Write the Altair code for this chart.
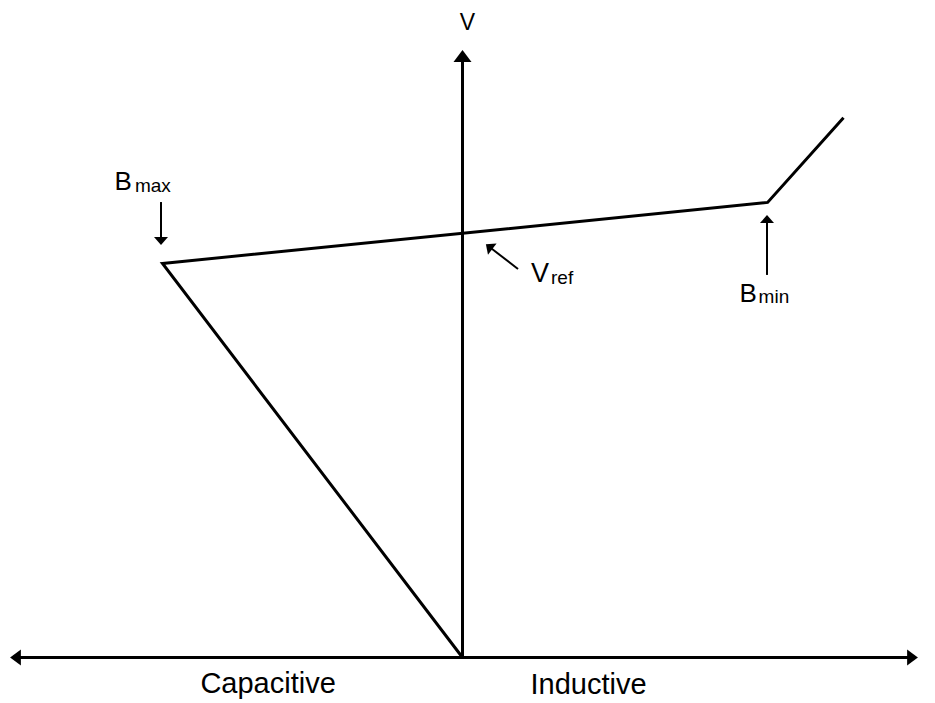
import math
import altair as alt
import pandas as pd

# ---- data (normalized current I and voltage V units) ----
# SVC characteristic: origin -> Bmax corner -> Bmin corner -> end of inductive slope
curve_I = [0.0, -1.0, 1.017, 1.27]
curve_V = [0.0, 1.0, 1.155, 1.37]

# axes (tips)
v_axis_top_V = 1.542
h_axis_left_I = -1.508
h_axis_right_I = 1.518

# annotation arrows: tail -> tip
arrow_names = ["Bmax", "Bmin", "Vref"]
arrow_tail_I = [-1.005, 1.015, 0.185]
arrow_tail_V = [1.156, 0.971, 0.986]
arrow_tip_I = [-1.005, 1.015, 0.078]
arrow_tip_V = [1.047, 1.123, 1.049]

# left-aligned labels (letters with subscripts)
lab_text = ["B", "max", "V", "ref", "B", "min"]
lab_I = [-1.160, -1.092, 0.228, 0.295, 0.923, 0.987]
lab_V = [1.186, 1.181, 0.954, 0.949, 0.903, 0.899]
lab_size = [26, 19, 27, 19, 26, 19]

# centered labels
clab_text = ["V", "Capacitive", "Inductive"]
clab_I = [0.0167, -0.648, 0.42]
clab_V = [1.593, -0.090, -0.0926]
clab_size = [23, 29, 29]

# ---- scale geometry (domain chosen so plot fills page) ----
X_DOM = [-1.515, 1.5483]
Y_DOM = [-0.1155, 1.6485]
W, H = 919, 695
XPX = W / (X_DOM[1] - X_DOM[0])
YPX = H / (Y_DOM[1] - Y_DOM[0])


def angle_of(tail, tip):
    dx = (tip[0] - tail[0]) * XPX
    dy = -(tip[1] - tail[1]) * YPX
    return math.degrees(math.atan2(dx, -dy)) % 360


def shorten(tail, tip, px):
    dx = (tip[0] - tail[0]) * XPX
    dy = (tip[1] - tail[1]) * YPX
    n = math.hypot(dx, dy)
    f = max(0.0, (n - px) / n)
    return (tail[0] + (tip[0] - tail[0]) * f, tail[1] + (tip[1] - tail[1]) * f)


thick_rows = []
for k, (i, v) in enumerate(zip(curve_I, curve_V)):
    thick_rows.append({"seg": "curve", "ord": k, "I": i, "V": v})
# vertical axis
p = shorten((0.0, 0.0), (0.0, v_axis_top_V), 9)
thick_rows += [{"seg": "vaxis", "ord": 0, "I": 0.0, "V": 0.0},
               {"seg": "vaxis", "ord": 1, "I": p[0], "V": p[1]}]
# horizontal axis
pl = shorten((0.0, 0.0), (h_axis_left_I, 0.0), 8)
pr = shorten((0.0, 0.0), (h_axis_right_I, 0.0), 8)
thick_rows += [{"seg": "haxis", "ord": 0, "I": pl[0], "V": pl[1]},
               {"seg": "haxis", "ord": 1, "I": pr[0], "V": pr[1]}]
thick_df = pd.DataFrame(thick_rows)

thin_rows = []
head_ann = []
for n, ti, tv, pi, pv in zip(arrow_names, arrow_tail_I, arrow_tail_V, arrow_tip_I, arrow_tip_V):
    q = shorten((ti, tv), (pi, pv), 5)
    thin_rows += [{"seg": n, "ord": 0, "I": ti, "V": tv},
                  {"seg": n, "ord": 1, "I": q[0], "V": q[1]}]
    head_ann.append({"I": pi, "V": pv, "ang": angle_of((ti, tv), (pi, pv))})
thin_df = pd.DataFrame(thin_rows)
head_ann_df = pd.DataFrame(head_ann)

head_axis_df = pd.DataFrame([
    {"I": 0.0, "V": v_axis_top_V, "ang": 0.0, "sz": 324},
    {"I": h_axis_left_I, "V": 0.0, "ang": 270.0, "sz": 256},
    {"I": h_axis_right_I, "V": 0.0, "ang": 90.0, "sz": 256},
])

lab_df = pd.DataFrame({"t": lab_text, "I": lab_I, "V": lab_V, "s": lab_size})
clab_df = pd.DataFrame({"t": clab_text, "I": clab_I, "V": clab_V, "s": clab_size})

xs = alt.X("I:Q", scale=alt.Scale(domain=X_DOM, nice=False, zero=False), axis=None)
ys = alt.Y("V:Q", scale=alt.Scale(domain=Y_DOM, nice=False, zero=False), axis=None)

thick = alt.Chart(thick_df).mark_line(color="black", strokeWidth=3, strokeCap="butt",
                                      strokeJoin="miter").encode(
    x=xs, y=ys, detail="seg:N", order="ord:Q")
thin = alt.Chart(thin_df).mark_line(color="black", strokeWidth=2, strokeCap="butt").encode(
    x=xs, y=ys, detail="seg:N", order="ord:Q")

heads_axis = alt.Chart(head_axis_df).mark_point(
    filled=True, color="black", opacity=1, strokeWidth=0,
    shape="M0,0L-1,1.35L1,1.35Z").encode(
    x=xs, y=ys, angle=alt.Angle("ang:Q", scale=None), size=alt.Size("sz:Q", scale=None))
heads_ann = alt.Chart(head_ann_df).mark_point(
    filled=True, color="black", opacity=1, strokeWidth=0, size=196,
    shape="M0,0L-1,1.15L1,1.15Z").encode(
    x=xs, y=ys, angle=alt.Angle("ang:Q", scale=None))

labels = alt.Chart(lab_df).mark_text(
    align="left", baseline="alphabetic", font="Liberation Sans", color="black").encode(
    x=xs, y=ys, text="t:N", size=alt.Size("s:Q", scale=None))
clabels = alt.Chart(clab_df).mark_text(
    align="center", baseline="alphabetic", font="Liberation Sans", color="black").encode(
    x=xs, y=ys, text="t:N", size=alt.Size("s:Q", scale=None))

chart = alt.layer(thick, thin, heads_axis, heads_ann, labels, clabels).properties(
    width=W, height=H, padding=0, autosize=alt.AutoSizeParams(type="none"),
    background="white"
).configure_view(stroke=None)

chart.save("out.html", embed_options={"renderer": "svg", "actions": False})
